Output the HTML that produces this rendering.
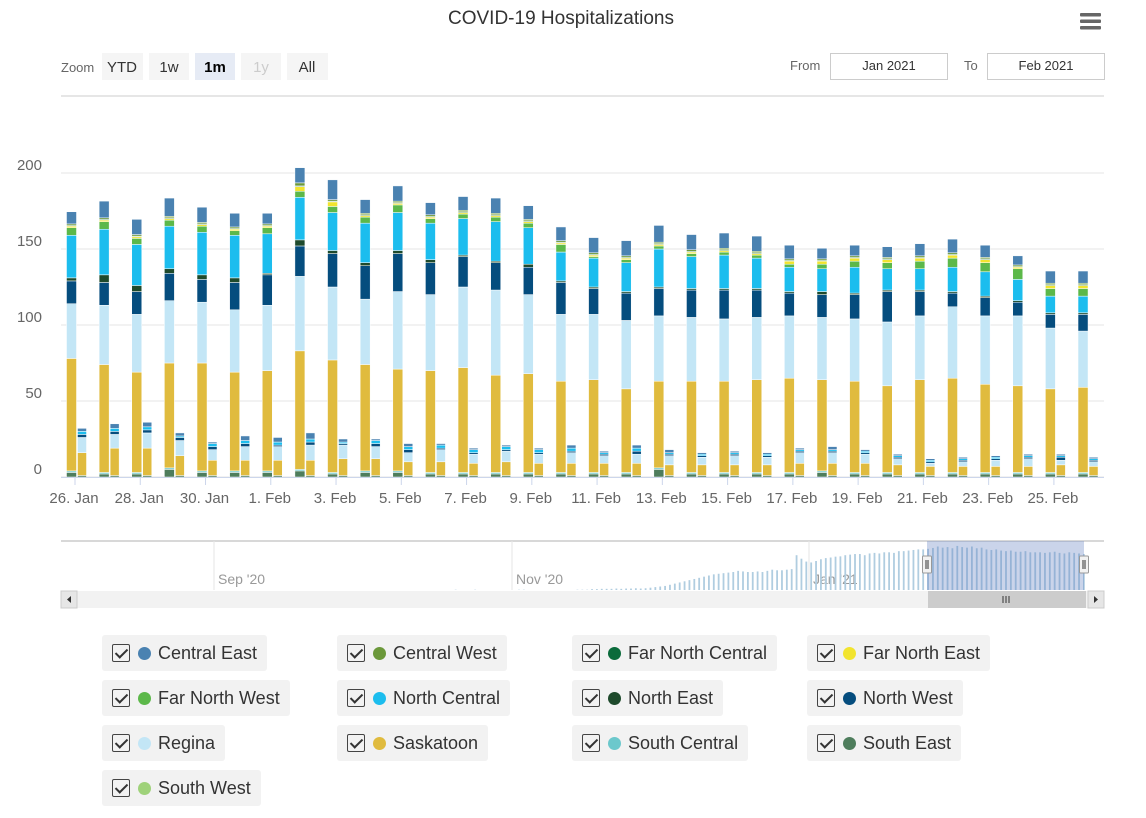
<!DOCTYPE html>
<html><head><meta charset="utf-8">
<style>
body{margin:0;width:1146px;height:818px;background:#fff;font-family:"Liberation Sans",sans-serif;overflow:hidden;position:relative}
.leg{position:absolute;height:36px;background:#f2f2f2;border-radius:3px;font-size:18px;color:#333;display:flex;align-items:center;padding:0 10px 0 10px;box-sizing:border-box}
.cb{width:18px;height:18px;border:1.5px solid #444;border-radius:2px;margin-right:8px;position:relative;box-sizing:border-box}
.cb:after{content:"";position:absolute;left:5px;top:1px;width:5px;height:10px;border:solid #333;border-width:0 2px 2px 0;transform:rotate(45deg)}
.dot{width:13px;height:13px;border-radius:50%;margin-right:7px}
</style></head><body>
<svg id="chart" width="1146" height="630" style="position:absolute;left:0;top:0" font-family="Liberation Sans, sans-serif">
<text x="561" y="24" text-anchor="middle" font-size="19" fill="#333">COVID-19 Hospitalizations</text>
<g fill="#666"><rect x="1080" y="13" width="21" height="3.5" rx="1"/><rect x="1080" y="19.5" width="21" height="3.5" rx="1"/><rect x="1080" y="26" width="21" height="3.5" rx="1"/></g>
<text x="61" y="72" font-size="13" fill="#666">Zoom</text>
<g><rect x="102" y="53" width="41" height="27" fill="#f5f5f5"/><text x="122" y="72" text-anchor="middle" font-size="15" fill="#333">YTD</text></g>
<g><rect x="149" y="53" width="40" height="27" fill="#f5f5f5"/><text x="169" y="72" text-anchor="middle" font-size="15" fill="#333">1w</text></g>
<g><rect x="195" y="53" width="40" height="27" fill="#e6ebf5"/><text x="215" y="72" text-anchor="middle" font-size="15" font-weight="bold" fill="#000">1m</text></g>
<g><rect x="241" y="53" width="40" height="27" fill="#f5f5f5"/><text x="261" y="72" text-anchor="middle" font-size="15" fill="#ccc">1y</text></g>
<g><rect x="287" y="53" width="41" height="27" fill="#f5f5f5"/><text x="307" y="72" text-anchor="middle" font-size="15" fill="#333">All</text></g>
<text x="790" y="70" font-size="13" fill="#666">From</text>
<g><rect x="830.5" y="53.5" width="117" height="26" fill="#fff" stroke="#ccc"/><text x="889" y="70" text-anchor="middle" font-size="13" fill="#333">Jan 2021</text></g>
<text x="964" y="70" font-size="13" fill="#666">To</text>
<g><rect x="987.5" y="53.5" width="117" height="26" fill="#fff" stroke="#ccc"/><text x="1046" y="70" text-anchor="middle" font-size="13" fill="#333">Feb 2021</text></g>
<line x1="61" y1="96" x2="1104" y2="96" stroke="#e6e6e6" stroke-width="2"/>
<g id="grid"></g><g id="bars"></g><g id="xaxis"></g><g id="nav"></g>
</svg>
<div id="legend"></div>
<script>
const days=["26. Jan","27. Jan","28. Jan","29. Jan","30. Jan","31. Jan","1. Feb","2. Feb","3. Feb","4. Feb","5. Feb","6. Feb","7. Feb","8. Feb","9. Feb","10. Feb","11. Feb","12. Feb","13. Feb","14. Feb","15. Feb","16. Feb","17. Feb","18. Feb","19. Feb","20. Feb","21. Feb","22. Feb","23. Feb","24. Feb","25. Feb","26. Feb"];
const yTicks=[0,50,100,150,200];
const seriesNames=["South East","South Central","South West","Saskatoon","Regina","North West","North East","North Central","Far North West","Far North East","Far North Central","Central West","Central East"];
const seriesColors=["#4e7d5c","#6cc8cc","#9fd27a","#e0bb3e","#c3e6f6","#054d7e","#1e4a2c","#1cbdee","#5cb84a","#f2e42e","#0b6b3b","#6b983a","#4a82b1"];
const southEast=[3,2,2,5,3,3,3,4,2,3,3,2,2,2,2,2,2,2,5,2,2,2,2,3,2,2,2,2,2,2,2,2];
const southCentral=[1,1,1,1,1,1,1,1,1,1,1,1,1,1,1,1,1,1,1,1,1,1,1,1,1,1,1,1,1,1,1,1];
const southWest=[0,0,0,0,0,0,0,0,0,0,0,0,0,0,0,0,0,0,0,0,0,0,0,0,0,0,0,0,0,0,0,0];
const saskatoon=[74,71,66,69,71,65,66,78,74,70,67,67,69,64,65,60,61,55,57,60,60,61,62,60,60,57,61,62,58,57,55,56];
const regina=[36,39,38,41,40,41,43,49,48,43,51,50,53,56,52,44,43,45,43,42,41,41,41,41,41,42,42,47,45,46,40,37];
const northWest=[15,15,15,18,15,18,20,20,22,22,25,21,20,18,18,21,17,18,18,18,19,18,15,15,16,20,16,9,12,9,9,11];
const northEast=[2,5,4,3,3,3,1,4,2,2,2,2,1,1,2,1,1,1,1,1,1,1,1,2,1,1,1,1,1,1,1,1];
const northCentral=[28,30,27,28,28,28,26,28,25,26,25,24,24,26,24,19,19,19,25,21,22,20,16,15,17,14,14,16,16,14,11,11];
const farNorthWest=[5,5,4,4,4,3,4,4,4,4,5,3,3,3,3,5,1,2,2,2,2,2,2,3,4,4,5,6,6,7,5,5];
const farNorthEast=[1,1,1,1,1,1,1,3,3,1,1,1,1,1,1,1,1,1,1,1,1,1,2,2,2,2,2,2,2,1,2,2];
const farNorthCentral=[0.5,0.5,0.5,0.5,0.5,0.5,0.5,0.5,0.5,0.5,0.5,0.5,0.5,0.5,0.5,0.5,0.5,0.5,0.5,0.5,0.5,0.5,0.5,0.5,0.5,0.5,0.5,0.5,0.5,0.5,0.5,0.5];
const centralWest=[1,1,1,1,1,1,1,2,1,1,1,1,1,1,1,1,1,1,1,1,1,1,1,1,1,1,1,1,1,1,1,1];
const centralEast=[8,11,10,12,10,9,7,10,13,9,10,8,9,10,9,9,10,10,11,10,10,10,9,7,7,7,8,9,8,6,8,8];
const icuSouthEast=[1,1,1,1,1,1,1,1,1,1,1,1,1,1,1,1,1,1,1,1,1,1,1,1,1,1,1,1,1,1,1,1];
const icuSaskatoon=[15,18,18,13,10,10,10,10,11,11,9,9,8,9,8,8,8,8,7,7,7,7,8,8,8,7,6,6,6,6,7,6];
const icuRegina=[10,9,10,10,7,9,9,10,9,8,6,8,6,7,6,7,5,6,6,5,6,5,7,7,6,4,2,3,4,5,3,3];
const icuNorthWest=[2,2,2,2,2,2,1,2,1,2,2,1,1,1,1,1,1,2,1,1,1,1,1,1,1,1,1,1,1,1,2,1];
const icuNorthCentral=[2,2,2,1,2,2,2,2,1,2,2,2,2,2,2,2,1,2,1,1,1,1,1,1,1,1,1,1,1,1,1,1];
const icuCentralEast=[2,3,3,2,1,3,3,4,2,1,2,1,1,1,1,2,1,2,2,1,1,1,1,2,1,1,1,1,1,1,1,1];
const navValues=[1,0,0,0,1,0,0,0,0,0,0,0,0,1,1,0,0,0,0,0,0,0,0,0,0,1,1,1,
3,3,4,4,4,5,4,5,5,6,5,6,
8,10,12,14,18,22,26,30,34,38,42,46,50,54,56,58,60,62,66,64,62,62,64,62,66,70,68,68,70,72,
120,108,98,95,100,106,110,112,115,116,120,122,124,124,120,126,128,126,130,130,128,134,134,136,138,140,140,142,
145,150,146,148,144,152,148,146,150,144,146,140,138,140,136,134,136,132,132,134,130,130,130,128,130,132,128,126,130,128,126,124];
const sSmallVals=[icuSouthEast,null,null,icuSaskatoon,icuRegina,icuNorthWest,null,icuNorthCentral,null,null,null,null,icuCentralEast];
const bigVals=[southEast,southCentral,southWest,saskatoon,regina,northWest,northEast,northCentral,farNorthWest,farNorthEast,farNorthCentral,centralWest,centralEast];
const NS="http://www.w3.org/2000/svg";
const y0=477,yScale=1.52;
function yPos(v){return y0-v*yScale;}
function xPos(i){return 75+i*32.63;}
function mk(tag,attrs,parent){const e=document.createElementNS(NS,tag);for(const k in attrs)e.setAttribute(k,attrs[k]);parent.appendChild(e);return e;}
const grid=document.getElementById('grid');
yTicks.forEach(t=>{
  const l=mk('line',{x1:61,x2:1104,y1:yPos(t),y2:yPos(t),stroke:'#e6e6e6'},grid);
  
  
  const tx=mk('text',{x:42,y:yPos(t)-3,'text-anchor':'end','font-size':15,fill:'#666'},grid);
  tx.textContent=t;
  
  
});
const bars=document.getElementById('bars');
days.forEach((d,i)=>{
  let acc=0;
  bigVals.forEach((arr,s)=>{
    const v=arr[i];if(!v)return;
    const r=mk('rect',{x:xPos(i)-8.5,y:yPos(acc+v),width:10,height:v*yScale,fill:seriesColors[s],stroke:'#fff','stroke-width':0.5},bars);
    
    
    acc+=v;
  });
  acc=0;
  sSmallVals.forEach((arr,s)=>{
    if(!arr)return;const v=arr[i];if(!v)return;
    const r=mk('rect',{x:xPos(i)+2.5,y:yPos(acc+v),width:9,height:v*yScale,fill:seriesColors[s],stroke:'#fff','stroke-width':0.5},bars);
    
    
    acc+=v;
  });
});
const xa=document.getElementById('xaxis');
mk('line',{x1:61,x2:1104,y1:y0+0.5,y2:y0+0.5,stroke:'#ccd6eb'},xa);
days.forEach((d,i)=>{
  if(i%2)return;
  mk('line',{x1:xPos(i),x2:xPos(i),y1:y0,y2:y0+8,stroke:'#ccd6eb'},xa);
  const t=mk('text',{x:xPos(i)-1,y:503,'text-anchor':'middle','font-size':15,fill:'#666'},xa);
  t.textContent=d;
  
  
});
const nav=document.getElementById('nav');
mk('line',{x1:61,x2:1104,y1:541,y2:541,stroke:'#ccc','stroke-width':1.5},nav);
[[214,"Sep '20"],[512,"Nov '20"],[809,"Jan '21"]].forEach(([x,l])=>{
  mk('line',{x1:x,x2:x,y1:541,y2:590,stroke:'#e6e6e6'},nav);
  const t=mk('text',{x:x+4,y:584,'font-size':14,fill:'#999'},nav);t.textContent=l;
});
navValues.forEach((v,i)=>{
  if(!v)return;
  const x=1083-(navValues.length-1-i)*4.87;
  const r=mk('rect',{x:x,y:590-v*0.29,width:1.8,height:v*0.29,fill:'#b0cde0'},nav);
  
  
});
const m=mk('rect',{x:927,y:541,width:157,height:49,fill:'rgba(102,133,194,0.35)'},nav);


[927,1084].forEach(x=>{const h=mk('rect',{x:x-4.5,y:556,width:9,height:17,fill:'#f2f2f2',stroke:'#999',rx:1},nav);


mk('line',{x1:x-1,x2:x-1,y1:560,y2:569,stroke:'#333'},nav);mk('line',{x1:x+1,x2:x+1,y1:560,y2:569,stroke:'#333'},nav);});
const sb=mk('rect',{x:61,y:591,width:1043,height:17,fill:'#f2f2f2'},nav);


const th=mk('rect',{x:928,y:591,width:158,height:17,fill:'#ccc'},nav);


[1003,1006,1009].forEach(x=>mk('line',{x1:x,x2:x,y1:596,y2:603,stroke:'#333'},nav));
mk('rect',{x:61,y:591,width:16,height:17,fill:'#e6e6e6',stroke:'#ccc'},nav);
mk('path',{d:'M71 596 L67 599.5 L71 603 Z',fill:'#333'},nav);
mk('rect',{x:1088,y:591,width:16,height:17,fill:'#e6e6e6',stroke:'#ccc'},nav);
mk('path',{d:'M1094 596 L1098 599.5 L1094 603 Z',fill:'#333'},nav);
const legendOrder=[12,11,10,9,8,7,6,5,4,3,1,0,2];
const legend=document.getElementById('legend');
const colX=[102,337,572,807];
legendOrder.forEach((s,k)=>{
  const c=k%4,r=Math.floor(k/4);
  const d=document.createElement('div');
  d.className='leg';
  d.style.left=colX[c]+'px';d.style.top=(635+r*45)+'px';
  
  
  d.innerHTML='<div class="cb"></div><div class="dot" style="background:'+seriesColors[s]+'"></div><span>'+seriesNames[s]+'</span>';
  legend.appendChild(d);
});
</script>
</body></html>
